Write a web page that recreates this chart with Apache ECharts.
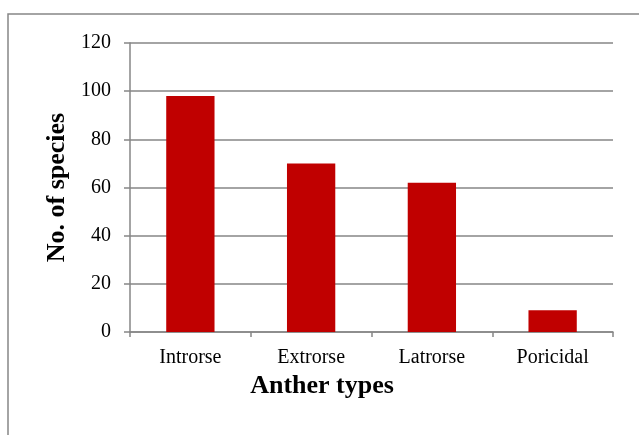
<!DOCTYPE html>
<html>
<head>
<meta charset="utf-8">
<script src="https://cdn.jsdelivr.net/npm/echarts@6/dist/echarts.min.js"></script>
<style>html,body{margin:0;padding:0;background:#fff;}#c{width:639px;height:435px;}</style>
</head>
<body>
<div id="c"></div>
<script>
var categories = ['Introrse', 'Extrorse', 'Latrorse', 'Poricidal'];
var speciesCounts = [98, 70, 62, 9];
var yTicks = [0, 20, 40, 60, 80, 100, 120];

var chart = echarts.init(document.getElementById('c'), null, {renderer: 'canvas'});
var serif = "'Liberation Serif', 'Times New Roman', serif";
chart.setOption({
  animation: false,
  backgroundColor: '#fff',
  grid: {left: 130, right: 26, top: 43, bottom: 103},
  graphic: [
    {type: 'polyline', shape: {points: [[8, 435], [8, 14], [639, 14]]}, style: {stroke: '#868686', lineWidth: 1.5, fill: null}},
    {type: 'text', style: {text: 'Anther types', x: 322, y: 373, textAlign: 'center', font: 'bold 26px ' + serif, fill: '#000'}}
  ],
  xAxis: {
    type: 'category',
    data: categories,
    axisLine: {lineStyle: {color: '#868686', width: 1.5}},
    axisTick: {show: true, length: 5, alignWithLabel: false, lineStyle: {color: '#868686', width: 1.5}},
    axisLabel: {color: '#000', fontFamily: serif, fontSize: 20, margin: 16}
  },
  yAxis: {
    type: 'value',
    min: yTicks[0],
    max: yTicks[yTicks.length - 1],
    interval: yTicks[1] - yTicks[0],
    name: 'No. of species',
    nameLocation: 'middle',
    nameRotate: 90,
    nameGap: 60,
    nameTextStyle: {color: '#000', fontFamily: serif, fontSize: 26, fontWeight: 'bold'},
    axisLine: {show: true, lineStyle: {color: '#868686', width: 1.5}},
    axisTick: {show: true, length: 6, lineStyle: {color: '#868686', width: 1.5}},
    splitLine: {show: true, lineStyle: {color: '#868686', width: 1.5}},
    axisLabel: {color: '#000', fontFamily: serif, fontSize: 20, margin: 19}
  },
  series: [{
    type: 'bar',
    data: speciesCounts,
    barWidth: '40%',
    itemStyle: {color: '#C00000'}
  }]
});
</script>
</body>
</html>
